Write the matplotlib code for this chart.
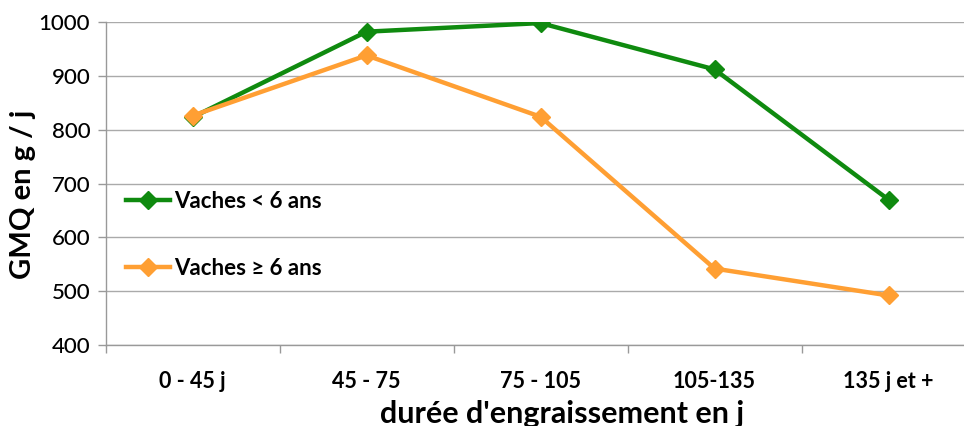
import matplotlib
matplotlib.use("Agg")
import matplotlib.pyplot as plt
from matplotlib.ticker import FixedLocator, MultipleLocator

plt.rcParams['font.family'] = ['Lato', 'DejaVu Sans']

categories = ["0 - 45 j", "45 - 75", "75 - 105", "105-135", "135 j et +"]
vaches_jeunes = [823, 982, 998, 912, 670]
vaches_agees = [826, 938, 824, 542, 492]
label_jeunes = "Vaches < 6 ans"
label_agees = "Vaches \u2265 6 ans"

green = "#0f8a0f"
orange = "#ff9f33"

fig = plt.figure(figsize=(9.64, 4.26), dpi=100)
ax = fig.add_axes([105.5/964, 81/426, 870/964, 323/426])

x = list(range(len(categories)))
ax.plot(x, vaches_jeunes, color=green, lw=3.2, marker="D", ms=9, label=label_jeunes, zorder=3)
ax.plot(x, vaches_agees, color=orange, lw=3.2, marker="D", ms=9, label=label_agees, zorder=4)

ax.set_xlim(-0.5, 4.5)
ax.set_ylim(400, 1000)
ax.yaxis.set_major_locator(MultipleLocator(100))
ax.set_xticks(x)
ax.set_xticklabels(categories, fontsize=15.5, fontweight="bold")
ax.xaxis.set_minor_locator(FixedLocator([i - 0.5 for i in range(len(categories) + 1)]))
ax.tick_params(axis="x", which="major", length=0, pad=19)
ax.tick_params(axis="x", which="minor", length=6, color="#999999", width=1)
ax.tick_params(axis="y", length=6, color="#999999", width=1, labelsize=16, pad=5)
for lab in ax.get_yticklabels():
    lab.set_fontweight("medium")

ax.grid(axis="y", color="#aaaaaa", lw=1)
ax.set_axisbelow(True)
for s in ["top", "right"]:
    ax.spines[s].set_visible(False)
for s in ["left", "bottom"]:
    ax.spines[s].set_color("#999999")
    ax.spines[s].set_linewidth(1)

ax.set_xlabel("durée d'engraissement en j", fontsize=22, fontweight="bold", labelpad=10)
ax.xaxis.set_label_coords(0.525, -0.17, transform=ax.transAxes)
ax.xaxis.label.set_va("top")
ax.set_ylabel("GMQ en g / j", fontsize=21, fontweight="bold", labelpad=2)
ax.yaxis.label.set_y(0.467)

leg = ax.legend(loc="upper left", bbox_to_anchor=(0.0, 0.54), frameon=False,
                labelspacing=2.1, handlelength=2.0, handletextpad=0.2,
                prop={"weight": "bold", "size": 16})

fig.savefig("out.png", dpi=100)
